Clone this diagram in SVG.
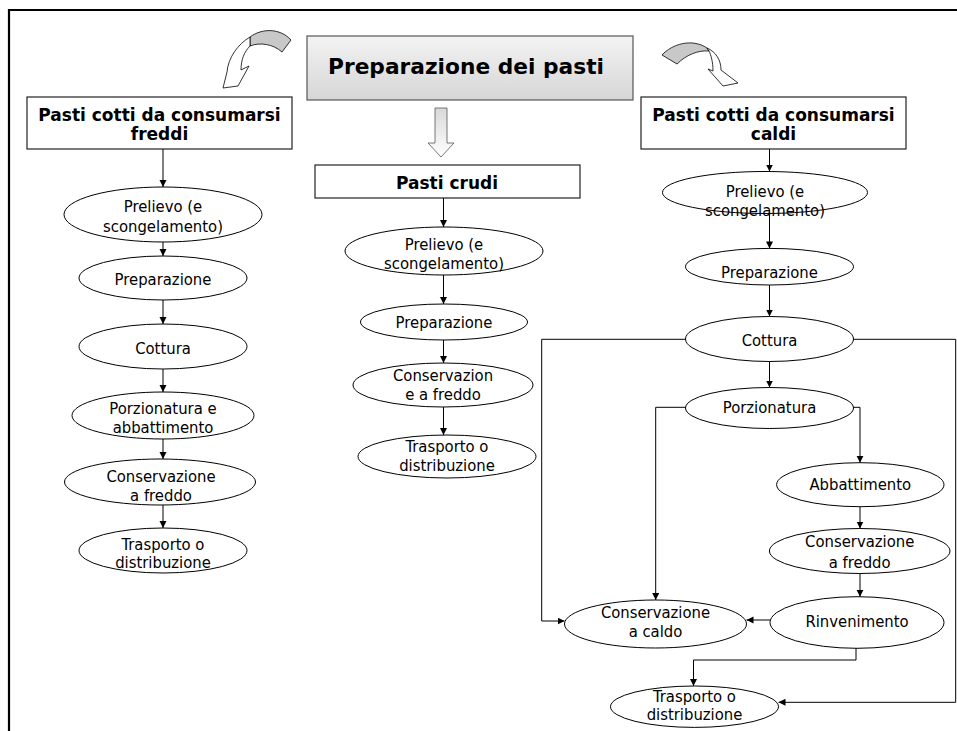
<svg xmlns="http://www.w3.org/2000/svg" width="957" height="731" viewBox="0 0 957 731">
<defs>
<style>
.frame{stroke:#000;stroke-width:2.2;fill:none}
.hdr{fill:#fff;stroke:#222;stroke-width:1.2}
.el{fill:#fff;stroke:#000;stroke-width:1}
.ht{font-family:"DejaVu Sans",sans-serif;font-weight:bold;font-size:17px;fill:#000;text-anchor:middle}
.tt{font-family:"DejaVu Sans",sans-serif;font-weight:bold;font-size:22px;fill:#000;text-anchor:middle}
.t{font-family:"DejaVu Sans Condensed","DejaVu Sans",sans-serif;font-stretch:condensed;font-size:16.5px;fill:#000;text-anchor:middle}
.c{fill:none;stroke:#000;stroke-width:1;marker-end:url(#ah)}
.ribbon{stroke:#000;stroke-width:0.8;stroke-linejoin:round}
</style>
<linearGradient id="gTitle" x1="0" y1="0" x2="0" y2="1">
<stop offset="0" stop-color="#f3f3f3"/>
<stop offset="1" stop-color="#d6d6d6"/>
</linearGradient>
<linearGradient id="gDown" x1="0" y1="0" x2="0" y2="1">
<stop offset="0" stop-color="#d9d9d9"/>
<stop offset="1" stop-color="#ffffff"/>
</linearGradient>
<marker id="ah" markerWidth="8" markerHeight="8" refX="7" refY="3.5" orient="auto" markerUnits="userSpaceOnUse">
<path d="M0,0 L7,3.5 L0,7 Z" fill="#000"/>
</marker>
</defs>
<rect width="957" height="731" fill="#fff"/>
<path class="frame" d="M9,731 V10 H957"/>

<g id="title">
<rect x="307" y="36" width="326" height="64" fill="url(#gTitle)" stroke="#555" stroke-width="1.2"/>
<text class="tt" x="466" y="74" textLength="276" lengthAdjust="spacingAndGlyphs">Preparazione dei pasti</text>
</g>

<g id="arrow-left-curved">
<path class="ribbon" fill="#c8c8c8" d="M250,37 C262,28 280,28 291,40 L282,52 C273,44 260,42 250,46 Z"/>
<path class="ribbon" fill="#fff" d="M250,37 C238,44 228,58 227,72 L223,88 L238,86 L249,66 L241,70 C241,60 244,52 250,46 Z"/>
</g>
<g id="arrow-right-curved">
<path class="ribbon" fill="#c8c8c8" d="M662,55 C672,44 692,38 707,48 L709,51 C698,50 686,55 677,64 Z"/>
<path class="ribbon" fill="#fff" d="M707,48 C716,52 721,60 721,70 L738,83 L723,86 L708,69 L713,71 C713,62 711,55 709,51 Z"/>
</g>
<g id="arrow-down-block">
<path d="M435,108 H447 V143 H454 L441,157 L428,143 H435 Z" fill="url(#gDown)" stroke="#555" stroke-width="0.8"/>
</g>

<g id="hdr-freddi">
<rect class="hdr" x="27" y="97" width="265" height="52"/>
<text class="ht" x="159.5" y="121">Pasti cotti da consumarsi</text>
<text class="ht" x="159.5" y="140">freddi</text>
</g>
<g id="hdr-crudi">
<rect class="hdr" x="315" y="165" width="265" height="33"/>
<text class="ht" x="447" y="189">Pasti crudi</text>
</g>
<g id="hdr-caldi">
<rect class="hdr" x="641" y="97" width="265" height="52"/>
<text class="ht" x="773.5" y="121">Pasti cotti da consumarsi</text>
<text class="ht" x="773.5" y="140">caldi</text>
</g>

<!-- left column -->
<g id="L1"><ellipse class="el" cx="163" cy="214.5" rx="99" ry="27.5"/><text class="t" x="163" y="212">Prelievo (e</text><text class="t" x="163" y="232">scongelamento)</text></g>
<g id="L2"><ellipse class="el" cx="163" cy="278" rx="84" ry="22"/><text class="t" x="163" y="285">Preparazione</text></g>
<g id="L3"><ellipse class="el" cx="163" cy="346.5" rx="84" ry="22.5"/><text class="t" x="163" y="354">Cottura</text></g>
<g id="L4"><ellipse class="el" cx="163" cy="415.5" rx="91" ry="23.5"/><text class="t" x="163" y="414">Porzionatura e</text><text class="t" x="163" y="433">abbattimento</text></g>
<g id="L5"><ellipse class="el" cx="160" cy="482" rx="95.5" ry="23"/><text class="t" x="161" y="481.5">Conservazione</text><text class="t" x="161" y="501">a freddo</text></g>
<g id="L6"><ellipse class="el" cx="163" cy="550.5" rx="84" ry="22.5"/><text class="t" x="163" y="549.5">Trasporto o</text><text class="t" x="163" y="568">distribuzione</text></g>

<!-- middle column -->
<g id="M1"><ellipse class="el" cx="444" cy="251" rx="99" ry="24"/><text class="t" x="444" y="250">Prelievo (e</text><text class="t" x="444" y="269">scongelamento)</text></g>
<g id="M2"><ellipse class="el" cx="444" cy="322" rx="83.5" ry="18"/><text class="t" x="444" y="328">Preparazione</text></g>
<g id="M3"><ellipse class="el" cx="443" cy="385" rx="90" ry="22"/><text class="t" x="443" y="381">Conservazion</text><text class="t" x="443" y="400">e a freddo</text></g>
<g id="M4"><ellipse class="el" cx="447" cy="456.5" rx="89" ry="21.5"/><text class="t" x="447" y="452">Trasporto o</text><text class="t" x="447" y="471">distribuzione</text></g>

<!-- right column -->
<g id="R1"><ellipse class="el" cx="765" cy="192.5" rx="102.5" ry="21"/><text class="t" x="765" y="197">Prelievo (e</text><text class="t" x="765" y="215.5">scongelamento)</text></g>
<g id="R2"><ellipse class="el" cx="769.5" cy="266.7" rx="84" ry="18.3"/><text class="t" x="769.5" y="278">Preparazione</text></g>
<g id="R3"><ellipse class="el" cx="769.5" cy="339" rx="84" ry="22.5"/><text class="t" x="769.5" y="346">Cottura</text></g>
<g id="R4"><ellipse class="el" cx="769.5" cy="408" rx="84" ry="20.5"/><text class="t" x="769.5" y="413">Porzionatura</text></g>
<g id="R5"><ellipse class="el" cx="860.3" cy="484.7" rx="83.7" ry="22"/><text class="t" x="860.3" y="490">Abbattimento</text></g>
<g id="R6"><ellipse class="el" cx="859.7" cy="551" rx="90.3" ry="22.5"/><text class="t" x="859.7" y="547">Conservazione</text><text class="t" x="859.7" y="568">a freddo</text></g>
<g id="R7"><ellipse class="el" cx="857" cy="622.5" rx="87" ry="25.8"/><text class="t" x="857" y="627">Rinvenimento</text></g>
<g id="R8"><ellipse class="el" cx="655.5" cy="624" rx="91" ry="24"/><text class="t" x="655.5" y="618">Conservazione</text><text class="t" x="655.5" y="637">a caldo</text></g>
<g id="R9"><ellipse class="el" cx="694.5" cy="706.7" rx="84" ry="20.7"/><text class="t" x="694.5" y="702">Trasporto o</text><text class="t" x="694.5" y="720">distribuzione</text></g>

<g id="connectors">
<path class="c" d="M163,149 V187"/>
<path class="c" d="M163,242 V256"/>
<path class="c" d="M163,300 V324"/>
<path class="c" d="M163,369 V392"/>
<path class="c" d="M163,439 V459"/>
<path class="c" d="M163,505 V528"/>

<path class="c" d="M443.5,198 V227"/>
<path class="c" d="M443.5,275 V304"/>
<path class="c" d="M443.5,340 V363"/>
<path class="c" d="M443.5,407 V435"/>

<path class="c" d="M769.5,149 V171.5"/>
<path class="c" d="M769.5,213.5 V248.4"/>
<path class="c" d="M769.5,285 V316.5"/>
<path class="c" d="M769.5,361.5 V387.5"/>
<path class="c" d="M685.5,339.3 H541.7 V621 H564.5"/>
<path class="c" d="M853.5,339.3 H955.7 V702.3 H778.5"/>
<path class="c" d="M685.5,407.3 H655.7 V600"/>
<path class="c" d="M853.5,407.3 H860 V462.7"/>
<path class="c" d="M860,506.7 V528.5"/>
<path class="c" d="M860,573.5 V596.7"/>
<path class="c" d="M770,620 H746.5"/>
<path class="c" d="M856,648.3 V660 H693.5 V686"/>
</g>
</svg>
